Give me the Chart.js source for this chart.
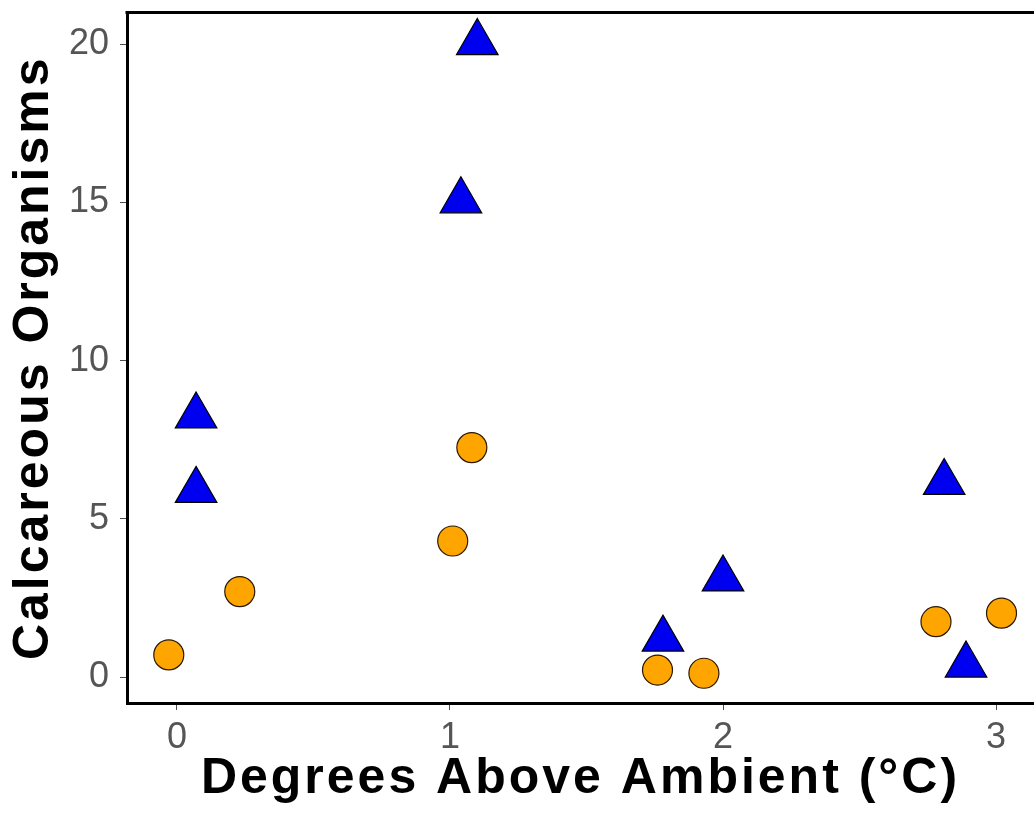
<!DOCTYPE html>
<html>
<head>
<meta charset="utf-8">
<script src="https://cdn.jsdelivr.net/npm/chart.js@4/dist/chart.umd.min.js"></script>
<style>
  html, body { margin: 0; padding: 0; background: #ffffff; }
  #wrap { width: 1034px; height: 816px; }
</style>
</head>
<body>
<div id="wrap"><canvas id="c" width="1034" height="816"></canvas></div>
<script>
// ---- data ----
const triangleX = [0.07, 0.07, 1.10, 1.04, 1.78, 2.00, 2.81, 2.89];
const triangleY = [8.25, 5.90, 20.05, 15.05, 1.20, 3.10, 6.15, 0.38];
const circleX = [-0.03, 0.23, 1.01, 1.08, 1.76, 1.93, 2.78, 3.02];
const circleY = [0.70, 2.70, 4.30, 7.25, 0.22, 0.12, 1.75, 2.02];
const xTicks = [0, 1, 2, 3];
const yTicks = [0, 5, 10, 15, 20];
const xTitle = 'Degrees Above Ambient (°C)';
const yTitle = 'Calcareous Organisms';

const FONT = '"Liberation Sans", Arial, sans-serif';

const toPoints = (xs, ys) => xs.map((x, i) => ({ x: x, y: ys[i] }));

const zeroPad = (scale) => {
  scale.paddingLeft = 0; scale.paddingRight = 0;
  scale.paddingTop = 0; scale.paddingBottom = 0;
};

// slightly wider letter spacing for the axis titles only
const titleSpacing = {
  id: 'titleSpacing',
  afterLayout(chart) {
    Object.values(chart.scales).forEach(scale => {
      if (scale._spacedTitle) return;
      const orig = scale.drawTitle;
      scale.drawTitle = function () {
        const ctx = this.ctx;
        ctx.save();
        if ('letterSpacing' in ctx) ctx.letterSpacing = '3px';
        orig.apply(this, arguments);
        ctx.restore();
      };
      scale._spacedTitle = true;
    });
  }
};

const topBorder = {
  id: 'topBorder',
  afterDraw(chart) {
    const { ctx, chartArea } = chart;
    ctx.save();
    ctx.strokeStyle = '#000000';
    ctx.lineWidth = 3;
    ctx.beginPath();
    ctx.moveTo(chartArea.left - 1.5, chartArea.top);
    ctx.lineTo(chart.width, chartArea.top);
    ctx.stroke();
    ctx.restore();
  }
};

new Chart(document.getElementById('c'), {
  type: 'scatter',
  data: {
    datasets: [
      {
        label: 'circles',
        data: toPoints(circleX, circleY),
        pointStyle: 'circle',
        pointRadius: 15,
        pointHoverRadius: 15,
        backgroundColor: '#FFA500',
        borderColor: '#2a1800',
        borderWidth: 1.2
      },
      {
        label: 'triangles',
        data: toPoints(triangleX, triangleY),
        pointStyle: 'triangle',
        pointRadius: 24,
        pointHoverRadius: 24,
        backgroundColor: '#0000F0',
        borderColor: '#000000',
        borderWidth: 1.2
      }
    ]
  },
  options: {
    responsive: false,
    animation: false,
    events: [],
    layout: { autoPadding: false, padding: { top: 12.5, right: 0, left: 0, bottom: 0 } },
    plugins: {
      legend: { display: false },
      tooltip: { enabled: false }
    },
    scales: {
      x: {
        type: 'linear',
        min: -0.183,
        max: 3.139,
        afterFit(scale) { scale.height = 113; zeroPad(scale); },
        afterBuildTicks(scale) { scale.ticks = xTicks.map(v => ({ value: v })); },
        border: { display: true, color: '#000000', width: 3 },
        grid: { drawOnChartArea: false, drawTicks: true, tickLength: 7, color: '#4d4d4d', lineWidth: 1 },
        ticks: {
          font: { family: FONT, size: 36 },
          color: '#555555',
          padding: 6,
          maxRotation: 0,
          callback: v => String(v)
        },
        title: {
          display: true,
          text: xTitle,
          color: '#000000',
          font: { family: FONT, size: 50, weight: 'bold', lineHeight: 1.2 },
          padding: { top: 0, bottom: 7 }
        }
      },
      y: {
        type: 'linear',
        min: -0.82,
        max: 21.0,
        afterFit(scale) { scale.width = 127; zeroPad(scale); },
        afterBuildTicks(scale) { scale.ticks = yTicks.map(v => ({ value: v })); },
        border: { display: true, color: '#000000', width: 3 },
        grid: { drawOnChartArea: false, drawTicks: true, tickLength: 7, color: '#4d4d4d', lineWidth: 1 },
        ticks: {
          font: { family: FONT, size: 36 },
          color: '#555555',
          padding: 11,
          callback: v => String(v)
        },
        title: {
          display: true,
          text: yTitle,
          color: '#000000',
          font: { family: FONT, size: 50, weight: 'bold', lineHeight: 1.2 },
          padding: { top: 4, bottom: 0 }
        }
      }
    }
  },
  plugins: [titleSpacing, topBorder]
});
</script>
</body>
</html>
